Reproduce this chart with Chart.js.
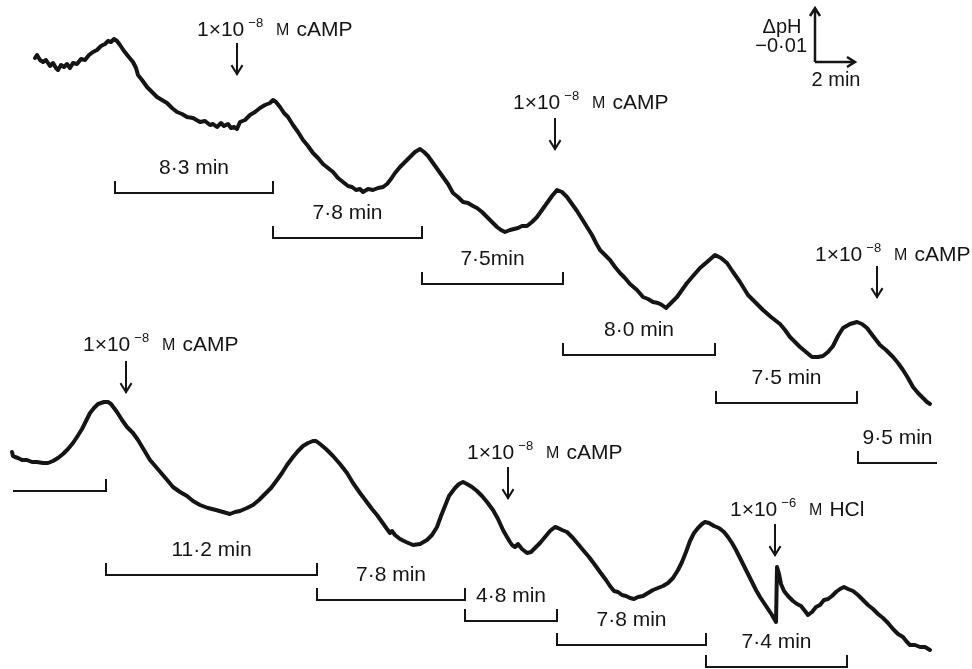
<!DOCTYPE html>
<html>
<head>
<meta charset="utf-8">
<script src="https://cdn.jsdelivr.net/npm/chart.js@4.4.1/dist/chart.umd.min.js"></script>
<style>
  html, body { margin: 0; padding: 0; background: #fff; }
</style>
</head>
<body>
<canvas id="chart" width="972" height="669"></canvas>
<script>
// pH recorder traces (x = along the paper, y = down the paper)
const topTrace = [
  [35,58],[37,55],[40,60],[43,62],[46,60],[50,66],[53,63],[56,68],[58,70],[61,65],[64,67],[67,64],
  [70,68],[73,63],[77,64],[81,59],[85,60],[89,55],[93,52],[97,50],[101,46],[105,44],[108,41],[111,42],
  [114,39],[117,41],[120,45],[124,51],[128,56],[133,62],[136,68],[138,75],[142,80],[147,87],[152,92],
  [157,97],[162,100],[167,103],[172,108],[177,112],[182,114],[187,117],[193,118],[200,122],[205,121],
  [210,125],[213,124],[217,127],[221,123],[224,126],[228,124],[231,128],[234,127],[237,129],[240,122],
  [245,120],[250,115],[255,112],[260,108],[265,105],[270,103],[273,100],[276,102],[280,107],[284,113],
  [288,117],[293,125],[298,132],[303,140],[308,146],[313,153],[318,158],[323,164],[328,168],[333,172],
  [338,178],[343,182],[348,186],[352,187],[356,190],[360,189],[363,192],[368,189],[373,190],[378,188],
  [383,187],[387,184],[391,179],[395,173],[400,167],[405,162],[410,157],[415,152],[420,149],[424,152],
  [428,156],[433,163],[438,170],[443,177],[448,184],[453,193],[458,197],[463,202],[468,203],[473,206],
  [477,208],[482,212],[487,217],[492,222],[497,227],[501,230],[505,232],[510,230],[514,229],[518,228],
  [522,226],[527,226],[532,222],[537,217],[542,210],[547,203],[552,196],[557,190],[562,192],[567,197],
  [572,204],[577,211],[582,219],[587,227],[592,235],[596,243],[600,250],[605,255],[610,260],[615,267],
  [620,273],[625,278],[630,284],[637,290],[643,297],[648,299],[653,302],[658,303],[662,305],[666,308],
  [671,303],[677,297],[682,290],[687,283],[693,276],[700,268],[707,262],[715,255],[721,258],[727,263],
  [733,272],[740,282],[748,295],[755,302],[763,310],[771,317],[780,324],[785,330],[790,337],[795,342],
  [800,347],[806,352],[812,357],[818,357],[823,356],[828,352],[833,346],[838,336],[843,328],[850,324],
  [857,322],[862,324],[867,328],[873,336],[880,345],[886,350],[893,357],[898,363],[903,370],[908,378],
  [913,387],[918,393],[923,398],[927,402],[930,404]
];

const bottomTrace = [
  [12,452],[13,456],[15,457],[18,458],[22,460],[27,460],[32,462],[37,462],[43,463],[48,463],[53,461],
  [58,458],[63,454],[68,449],[73,443],[77,437],[82,429],[86,421],[90,413],[94,408],[98,404],[101,403],
  [104,402],[108,402],[111,404],[114,408],[117,412],[122,420],[127,427],[130,430],[133,433],[138,440],
  [144,450],[150,460],[156,467],[162,474],[168,481],[173,487],[180,492],[187,496],[193,501],[200,505],
  [208,508],[216,510],[223,512],[230,514],[235,512],[240,511],[247,508],[253,505],[259,500],[265,494],
  [271,488],[277,480],[282,473],[287,465],[293,457],[298,451],[303,446],[308,443],[313,441],[316,441],
  [320,444],[326,449],[333,456],[340,464],[347,473],[353,483],[360,493],[366,501],[372,509],[377,515],
  [382,522],[387,529],[390,533],[392,531],[395,535],[400,539],[406,542],[413,545],[420,544],[427,540],
  [432,535],[437,527],[441,516],[445,506],[449,496],[455,488],[459,484],[463,482],[467,484],[472,487],
  [477,491],[482,496],[487,502],[493,510],[498,519],[503,530],[507,537],[510,542],[512,545],[515,547],
  [518,544],[522,549],[527,553],[531,552],[535,548],[540,543],[545,537],[550,531],[555,527],[558,528],
  [562,530],[567,532],[573,538],[578,544],[583,550],[589,557],[595,565],[600,572],[606,580],[610,586],
  [614,591],[618,592],[622,595],[626,596],[630,598],[634,599],[638,597],[643,596],[648,593],[653,590],
  [658,588],[663,586],[668,583],[673,578],[678,570],[682,562],[686,552],[690,541],[694,533],[698,528],
  [702,524],[705,522],[709,523],[714,526],[719,528],[724,532],[728,537],[732,543],[736,550],[740,558],
  [744,566],[748,574],[752,582],[756,590],[760,597],[764,603],[768,609],[772,615],[776,622],[777,567],
  [779,574],[781,584],[784,591],[788,596],[793,601],[797,604],[801,606],[805,611],[808,615],[812,612],
  [816,607],[820,605],[824,600],[828,599],[832,596],[836,592],[840,589],[844,587],[848,589],[853,591],
  [858,595],[863,600],[868,605],[873,609],[878,614],[883,618],[888,623],[893,629],[898,634],[903,637],
  [907,642],[910,645],[915,645],[920,647],[925,647],[930,650]
];

// additions (arrows)
const addAt = [237, 555, 877, 126, 508, 775];
const addExp = ['\u22128', '\u22128', '\u22128', '\u22128', '\u22128', '\u22126'];
const addWhat = ['cAMP', 'cAMP', 'cAMP', 'cAMP', 'cAMP', 'HCl'];

// intervals between peaks
const intervalFrom = [115, 273, 422, 563, 716, 858, 13, 106, 317, 465, 557, 706];
const intervalTo = [273, 422, 563, 715, 857, 937, 106, 317, 465, 557, 706, 847];
const intervalText = ['8\u00b73 min', '7\u00b78 min', '7\u00b75min', '8\u00b70 min', '7\u00b75 min', '9\u00b75 min',
  '', '11\u00b72 min', '7\u00b78 min', '4\u00b78 min', '7\u00b78 min', '7\u00b74 min'];

// layout of the annotations (paper units)
const arrowTip = [74, 149, 297, 392, 498, 555];
const doseTextX = [197, 513, 815, 83, 467, 730];
const doseTextY = [30, 103, 255, 345, 453, 510];
const bracketRow = [193, 238, 284, 355, 403, 463, 491, 575, 600, 621, 645, 667];
const bracketEnds = ['both', 'both', 'both', 'both', 'both', 'left', 'right', 'both', 'both', 'both', 'both', 'both'];

const ink = '#151515';
const FONT = '"Liberation Sans", Arial, Helvetica, sans-serif';

function doseLabel(ctx, x0, ym, exp, what) {
    ctx.textAlign = 'left';
    ctx.textBaseline = 'middle';
    ctx.font = '21px ' + FONT;
    ctx.fillText('1\u00d710', x0, ym);
    let cx = x0 + ctx.measureText('1\u00d710').width + 4;
    ctx.font = '13px ' + FONT;
    ctx.fillText(exp, cx, ym - 7);
    cx += ctx.measureText(exp).width + 13;
    ctx.font = '16px ' + FONT;
    ctx.fillText('M', cx, ym + 1);
    cx += ctx.measureText('M').width + 7;
    ctx.font = '21px ' + FONT;
    ctx.fillText(what, cx, ym);
}

function downArrow(ctx, px, yTop, yTip) {
    ctx.beginPath();
    ctx.moveTo(px, yTop);
    ctx.lineTo(px, yTip);
    ctx.moveTo(px - 5, yTip - 8);
    ctx.lineTo(px, yTip);
    ctx.lineTo(px + 5, yTip - 8);
    ctx.stroke();
}

const annotations = {
    id: 'annotations',
    afterDatasetsDraw(chart) {
        const ctx = chart.ctx;
        const sx = chart.scales.x, sy = chart.scales.y;
        ctx.save();
        ctx.strokeStyle = ink;
        ctx.fillStyle = ink;
        ctx.lineCap = 'square';

        // additions
        ctx.lineWidth = 2;
        addAt.forEach((t, i) => {
            const px = sx.getPixelForValue(t);
            const tip = sy.getPixelForValue(arrowTip[i]);
            downArrow(ctx, px, tip - 30, tip);
            doseLabel(ctx, sx.getPixelForValue(doseTextX[i]), sy.getPixelForValue(doseTextY[i]), addExp[i], addWhat[i]);
        });

        // interval brackets
        intervalFrom.forEach((a, i) => {
            const x0 = sx.getPixelForValue(a), x1 = sx.getPixelForValue(intervalTo[i]);
            const yb = sy.getPixelForValue(bracketRow[i]);
            ctx.lineWidth = 2;
            ctx.lineCap = 'butt';
            ctx.beginPath();
            ctx.moveTo(x0, yb);
            ctx.lineTo(x1, yb);
            if (bracketEnds[i] !== 'right') { ctx.moveTo(x0, yb + 1); ctx.lineTo(x0, yb - 12); }
            if (bracketEnds[i] !== 'left') { ctx.moveTo(x1, yb + 1); ctx.lineTo(x1, yb - 12); }
            ctx.stroke();
            if (intervalText[i]) {
                ctx.font = '21px ' + FONT;
                ctx.textAlign = 'center';
                ctx.textBaseline = 'middle';
                ctx.fillText(intervalText[i], (x0 + x1) / 2, yb - 25);
            }
        });

        // scale bar: 0.01 pH unit / 2 min
        const ox = sx.getPixelForValue(815), oy = sy.getPixelForValue(62);
        const topY = sy.getPixelForValue(8), endX = sx.getPixelForValue(855);
        ctx.lineWidth = 2.5;
        ctx.lineCap = 'butt';
        ctx.beginPath();
        ctx.moveTo(ox, oy);
        ctx.lineTo(ox, topY);
        ctx.moveTo(ox - 5, topY + 8); ctx.lineTo(ox, topY); ctx.lineTo(ox + 5, topY + 8);
        ctx.moveTo(ox, oy);
        ctx.lineTo(endX, oy);
        ctx.moveTo(endX - 8, oy - 5); ctx.lineTo(endX, oy); ctx.lineTo(endX - 8, oy + 5);
        ctx.stroke();
        ctx.font = '20px ' + FONT;
        ctx.textBaseline = 'middle';
        ctx.textAlign = 'center';
        ctx.fillText('\u0394pH', sx.getPixelForValue(782), sy.getPixelForValue(27));
        ctx.textAlign = 'right';
        ctx.fillText('\u22120\u00b701', sx.getPixelForValue(807), sy.getPixelForValue(46));
        ctx.textAlign = 'center';
        ctx.fillText('2 min', sx.getPixelForValue(836), sy.getPixelForValue(80));
        ctx.restore();
    }
};

const traceStyle = {
    showLine: true,
    pointRadius: 0,
    borderColor: ink,
    borderWidth: 4,
    borderJoinStyle: 'round',
    borderCapStyle: 'round',
    tension: 0
};

new Chart(document.getElementById('chart'), {
    type: 'scatter',
    data: {
        datasets: [
            Object.assign({label: 'upper trace', data: topTrace.map(p => ({x: p[0], y: p[1]}))}, traceStyle),
            Object.assign({label: 'lower trace', data: bottomTrace.map(p => ({x: p[0], y: p[1]}))}, traceStyle)
        ]
    },
    options: {
        responsive: false,
        animation: false,
        layout: {padding: 0},
        plugins: {legend: {display: false}, tooltip: {enabled: false}},
        scales: {
            x: {type: 'linear', display: false, min: 0, max: 972},
            y: {type: 'linear', display: false, min: 0, max: 669, reverse: true}
        }
    },
    plugins: [annotations]
});
</script>
</body>
</html>
